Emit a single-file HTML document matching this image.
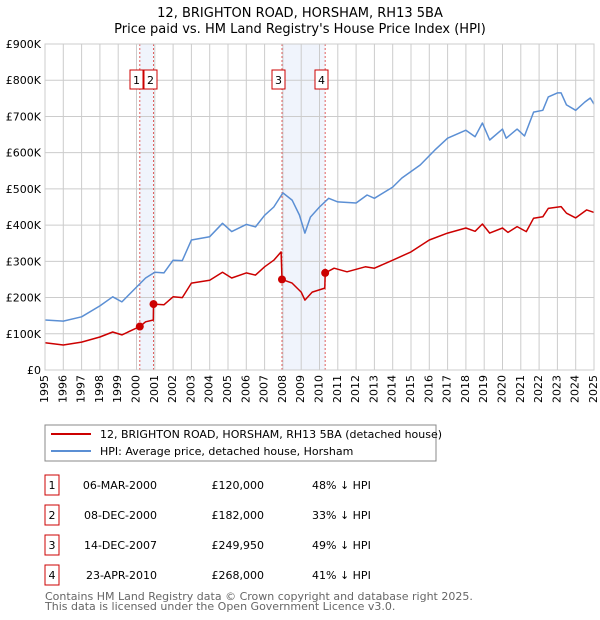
<!DOCTYPE html>
<html><head><meta charset="utf-8"><style>
body{margin:0;background:#fff;font-family:"Liberation Sans","DejaVu Sans",sans-serif;}
svg text{font-family:"DejaVu Sans","Liberation Sans",sans-serif;}
#wrap{position:relative;width:600px;height:620px;}
#wrap svg{position:absolute;left:0;top:0;}
.xl{position:absolute;top:375px;width:12px;height:40px;line-height:12px;font-size:11px;text-align:right;font-family:"DejaVu Sans","Liberation Sans",sans-serif;writing-mode:vertical-rl;writing-mode:sideways-lr;white-space:nowrap;}
</style></head><body>
<div id="wrap">
<svg id="c" width="600" height="620" xmlns="http://www.w3.org/2000/svg">
<text x="300" y="17" text-anchor="middle" font-size="13">12, BRIGHTON ROAD, HORSHAM, RH13 5BA</text>
<text x="300" y="33" text-anchor="middle" font-size="13">Price paid vs. HM Land Registry's House Price Index (HPI)</text>
<g id="plot"></g>
<g>
<rect x="45" y="425" width="391" height="36" fill="#fff" stroke="#888" stroke-width="1"/>
<line x1="51" y1="434" x2="91" y2="434" stroke="#cc0000" stroke-width="2"/>
<text x="100" y="438" font-size="11">12, BRIGHTON ROAD, HORSHAM, RH13 5BA (detached house)</text>
<line x1="51" y1="451" x2="91" y2="451" stroke="#5b8fd4" stroke-width="2"/>
<text x="100" y="455" font-size="11">HPI: Average price, detached house, Horsham</text>
</g>
<g id="tbl"></g>
<text x="45" y="600" font-size="11" fill="#666">Contains HM Land Registry data © Crown copyright and database right 2025.</text>
<text x="45" y="610" font-size="11" fill="#666">This data is licensed under the Open Government Licence v3.0.</text>
</svg>
</div>
<script>
const hpiYears=[1995,1996,1997,1998,1998.7,1999.2,2000,2000.5,2001,2001.5,2002,2002.5,2003,2004,2004.7,2005.2,2006,2006.5,2007,2007.5,2008,2008.5,2008.9,2009.2,2009.5,2010,2010.5,2011,2012,2012.6,2013,2014,2014.5,2015.5,2016.3,2017,2018,2018.5,2018.9,2019.3,2020,2020.2,2020.8,2021.2,2021.7,2022.2,2022.5,2023,2023.2,2023.5,2024,2024.5,2024.8,2025];
const hpiValues=[138,135,147,177,202,188,229,254,270,268,303,302,359,368,405,382,402,395,427,450,489,469,428,378,422,450,474,464,461,483,474,505,530,566,607,640,662,644,682,635,665,640,665,646,712,717,754,765,765,732,717,740,751,734];
const redYears=[1995,1996,1997,1998,1998.7,1999.2,2000.18,2000.5,2000.92,2000.93,2001.5,2002,2002.5,2003,2004,2004.7,2005.2,2006,2006.5,2007,2007.5,2007.9,2007.95,2008.5,2009,2009.2,2009.6,2010.29,2010.31,2010.8,2011.5,2012.5,2013,2014,2015,2016,2017,2018,2018.5,2018.9,2019.3,2020,2020.3,2020.8,2021.3,2021.7,2022.2,2022.5,2023.2,2023.5,2024,2024.6,2025];
const redValues=[75,69,77,91,105,97,120,133,138,182,180,202,200,240,248,270,254,268,262,285,303,326,250,240,215,193,215,226,268,281,271,285,281,303,326,359,378,392,383,403,378,392,380,396,382,419,423,446,451,433,420,442,435];
const saleLabels=["1","2","3","4"];
const saleYears=[2000.18,2000.93,2007.95,2010.31];
const saleValues=[120,182,249.95,268];
const saleDates=["06-MAR-2000","08-DEC-2000","14-DEC-2007","23-APR-2010"];
const salePrices=["£120,000","£182,000","£249,950","£268,000"];
const salePct=["48% ↓ HPI","33% ↓ HPI","49% ↓ HPI","41% ↓ HPI"];
const yTicks=[0,100,200,300,400,500,600,700,800,900];
const yTickLabels=["£0","£100K","£200K","£300K","£400K","£500K","£600K","£700K","£800K","£900K"];
const xTicks=[1995,1996,1997,1998,1999,2000,2001,2002,2003,2004,2005,2006,2007,2008,2009,2010,2011,2012,2013,2014,2015,2016,2017,2018,2019,2020,2021,2022,2023,2024,2025];

const NS="http://www.w3.org/2000/svg";
const X0=45,X1=594,Y0=370,Y1=44;
const xs=y=>X0+(y-1995)/30*(X1-X0);
const ys=v=>Y0-v/900*(Y0-Y1);
function mk(tag,attrs,parent){const e=document.createElementNS(NS,tag);for(const k in attrs)e.setAttribute(k,attrs[k]);parent.appendChild(e);return e;}
const P=document.getElementById('plot');
const W=document.getElementById('wrap');
for(let i=0;i<saleYears.length;i+=2){
 const r=mk('rect',{x:xs(saleYears[i]),y:Y1,width:xs(saleYears[i+1])-xs(saleYears[i]),height:Y0-Y1,fill:'#f0f4fc'},P);
 
 
}
yTicks.forEach((t,i)=>{
 const l=mk('line',{x1:X0,x2:X1,y1:ys(t),y2:ys(t),stroke:'#ccc','stroke-width':1},P);
 
 
 const tx=mk('text',{x:X0-4,y:ys(t)+4,'text-anchor':'end','font-size':11},P);
 tx.textContent=yTickLabels[i];
 
 
});
xTicks.forEach(t=>{
 const l=mk('line',{x1:xs(t),x2:xs(t),y1:Y1,y2:Y0,stroke:'#ccc','stroke-width':1},P);
 
 
 const d=document.createElement('div');
 d.className='xl';
 d.style.left=(xs(t)-6).toFixed(1)+'px';
 d.textContent=t;
 
 
 W.appendChild(d);
});
saleYears.forEach((y,i)=>{
 const l=mk('line',{x1:xs(y),x2:xs(y),y1:Y1,y2:Y0,stroke:'#e06060','stroke-width':1,'stroke-dasharray':'2,2'},P);
 
 
});
const badgeX=[130,144,272,315];
saleLabels.forEach((s,i)=>{
 const g=mk('g',{},P);
 
 
 mk('rect',{x:badgeX[i],y:70,width:13,height:19,fill:'#fff',stroke:'#c00','stroke-width':1},g);
 const t=mk('text',{x:badgeX[i]+6.5,y:84,'text-anchor':'middle','font-size':11},g);t.textContent=s;
});
function line(xa,va,color,name){
 const d=xa.map((x,i)=>(i?'L':'M')+xs(x).toFixed(1)+','+ys(va[i]).toFixed(1)).join('');
 const p=mk('path',{d,fill:'none',stroke:color,'stroke-width':1.5,'stroke-linejoin':'round'},P);
 
 
}
line(hpiYears,hpiValues,'#5b8fd4','hpi-line');
line(redYears,redValues,'#cc0000','property-price-line');
saleYears.forEach((y,i)=>{
 const c=mk('circle',{cx:xs(y),cy:ys(saleValues[i]),r:4,fill:'#cc0000'},P);
 
 
});
mk('rect',{x:X0,y:Y1,width:X1-X0,height:Y0-Y1,fill:'none',stroke:'#ccc'},P);
const T=document.getElementById('tbl');
saleLabels.forEach((s,i)=>{
 const y=485+i*30;
 const g=mk('g',{},T);
 
 
 mk('rect',{x:45,y:y-10,width:14,height:20,fill:'#fff',stroke:'#c00'},g);
 let t=mk('text',{x:52,y:y+4,'text-anchor':'middle','font-size':11},g);t.textContent=s;
 t=mk('text',{x:157,y:y+4,'text-anchor':'end','font-size':11},g);t.textContent=saleDates[i];
 t=mk('text',{x:264,y:y+4,'text-anchor':'end','font-size':11},g);t.textContent=salePrices[i];
 t=mk('text',{x:312,y:y+4,'font-size':11},g);t.textContent=salePct[i];
});
</script>
</body></html>
